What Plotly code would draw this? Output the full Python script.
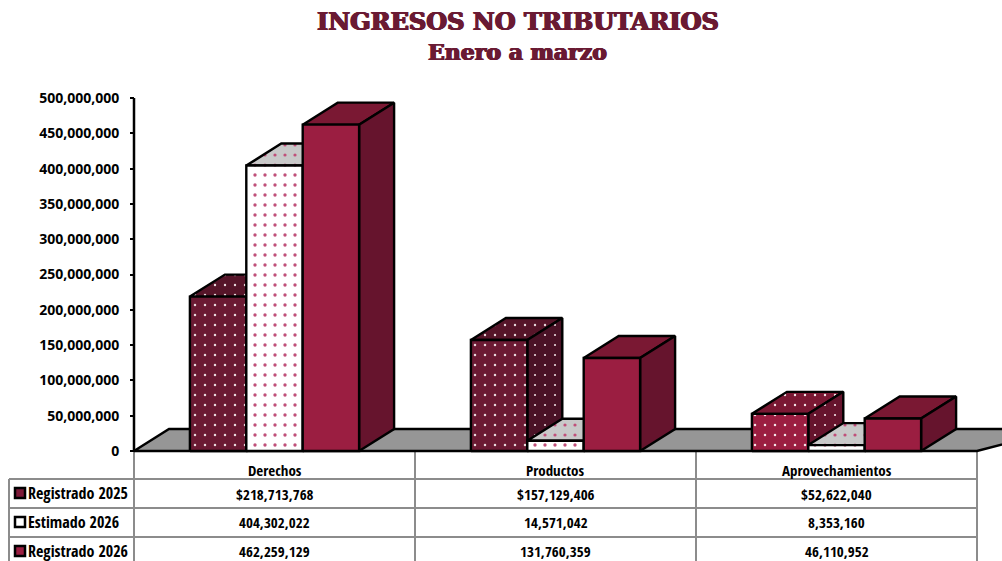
import plotly.graph_objects as go

categories = ["Derechos", "Productos", "Aprovechamientos"]
series_names = ["Registrado 2025", "Estimado 2026", "Registrado 2026"]
registrado_2025 = [218713768, 157129406, 52622040]
estimado_2026 = [404302022, 14571042, 8353160]
registrado_2026 = [462259129, 131760359, 46110952]
tick_values = [0, 50e6, 100e6, 150e6, 200e6, 250e6, 300e6, 350e6, 400e6, 450e6, 500e6]
title_lines = ["INGRESOS NO TRIBUTARIOS", "Enero a marzo"]

W, H = 1002, 561
X0_PX, CAT_PX = 274.5, 281.0      # centre of first category, width of a category
Y0_PX, PX_PER_UNIT = 451.0, 35.3 / 50e6
DEPTH_X = 35 / CAT_PX
DEPTH_Y = 22 / PX_PER_UNIT
BAR_W = 56.4 / CAT_PX

MAROON = "#6a1a33"
NARROW = "Open Sans Condensed"
SERIF = "DejaVu Serif"
SANS = "Open Sans"
GREY = "#8c8c8c"

fig = go.Figure()


def paper_x(px):
    return px / W


def paper_y(px):
    return 1 - px / H


def face(xs, ys, fill, pattern=None, width=2.4):
    t = dict(x=xs + xs[:1], y=ys + ys[:1], mode="lines", fill="toself", fillcolor=fill,
             line=dict(color="black", width=width, simplify=False), hoverinfo="skip", showlegend=False)
    if pattern:
        t["fillpattern"] = pattern
    fig.add_trace(go.Scatter(**t))


def dots(bg, fg, size=10, solidity=0.045):
    return dict(shape=".", bgcolor=bg, fgcolor=fg, size=size, solidity=solidity, fillmode="replace")


# floor of the 3-D plot
left, right = -0.5, 2.5
over = right + 0.3
face([left, right, over, left + DEPTH_X], [0, 0, DEPTH_Y, DEPTH_Y], "#969696")

# (front, top, side, dot colour, dot solidity) for each series in each category
styles = [
    [("#6b1a33", "#561529", "#4a1226", "#e8d8dc", 0.05), ("#ffffff", "#c9c9c9", "#c9c9c9", "#c0507a", 0.09), ("#9b1e41", "#7a1833", "#66142d", None, 0)],
    [("#6b1a33", "#561529", "#4a1226", "#e8d8dc", 0.05), ("#ffffff", "#c9c9c9", "#c9c9c9", "#c0507a", 0.09), ("#9b1e41", "#7a1833", "#66142d", None, 0)],
    [("#9b1e41", "#7a1833", "#66142d", "#f3e3e7", 0.05), ("#ffffff", "#c9c9c9", "#c9c9c9", "#c0507a", 0.09), ("#9b1e41", "#7a1833", "#66142d", None, 0)],
]
all_series = [registrado_2025, estimado_2026, registrado_2026]

for c in range(len(categories)):
    for s, values in enumerate(all_series):
        v = values[c]
        x1 = c + (s - 1.5) * BAR_W
        x2 = x1 + BAR_W
        front, top, side, dot, sol = styles[c][s]
        pf = dots(front, dot, 10, sol) if dot else None
        pt = dots(top, dot, 10, sol * 0.9) if dot else None
        ps = dots(side, dot, 10, sol * 0.7) if dot else None
        face([x1, x1 + DEPTH_X, x2 + DEPTH_X, x2], [v, v + DEPTH_Y, v + DEPTH_Y, v], top, pt)
        face([x2, x2 + DEPTH_X, x2 + DEPTH_X, x2], [0, DEPTH_Y, v + DEPTH_Y, v], side, ps)
        face([x1, x2, x2, x1], [0, 0, v, v], front, pf)

# value axis line
fig.add_trace(go.Scatter(x=[left, left], y=[0, tick_values[-1]], mode="lines",
                         line=dict(color="black", width=2.5), hoverinfo="skip", showlegend=False))

# data table
rows_px = [451, 479, 508, 537, 565]
cols_px = [134, 415, 696, 977]
shapes = []
for xp in cols_px:
    shapes.append(dict(type="line", xref="paper", yref="paper", x0=paper_x(xp), x1=paper_x(xp),
                       y0=paper_y(rows_px[0]), y1=paper_y(rows_px[-1]), line=dict(color=GREY, width=2), layer="below"))
shapes.append(dict(type="line", xref="paper", yref="paper", x0=paper_x(9), x1=paper_x(9),
                   y0=paper_y(rows_px[1]), y1=paper_y(rows_px[-1]), line=dict(color=GREY, width=2), layer="below"))
for yp in rows_px[1:4]:
    shapes.append(dict(type="line", xref="paper", yref="paper", x0=paper_x(9), x1=paper_x(977),
                       y0=paper_y(yp), y1=paper_y(yp), line=dict(color=GREY, width=2), layer="below"))

key_colors = ["#7d1a38", "#ffffff", "#9b1e41"]
annotations = []


def label(px_x, px_y, text, size, xanchor="center", color="black", family=NARROW, shadow=None):
    font = dict(family=family, size=size, color=color, weight=700)
    if shadow:
        font["shadow"] = shadow
    annotations.append(dict(x=paper_x(px_x), y=paper_y(px_y), xref="paper", yref="paper", text=text,
                            showarrow=False, xanchor=xanchor, yanchor="middle", font=font))


fat = f"0.8px 0 0 {MAROON}, -0.8px 0 0 {MAROON}, 0 0.4px 0 {MAROON}, 0 -0.4px 0 {MAROON}"
label(517.5, 21, title_lines[0], 24, color=MAROON, family=SERIF, shadow=fat)
label(517.5, 52, title_lines[1], 22, color=MAROON, family=SERIF, shadow=fat)

for c, cat in enumerate(categories):
    cx = X0_PX + c * CAT_PX
    label(cx, 470, cat, 15)
    label(cx, 494, f"${registrado_2025[c]:,}", 15)
    label(cx, 522, f"{estimado_2026[c]:,}", 15)
    label(cx, 550.5, f"{registrado_2026[c]:,}", 15)

for s, name in enumerate(series_names):
    yc = [493, 522, 551][s]
    shapes.append(dict(type="rect", xref="paper", yref="paper", x0=paper_x(15), x1=paper_x(25),
                       y0=paper_y(yc - 5), y1=paper_y(yc + 5), fillcolor=key_colors[s],
                       line=dict(color="black", width=2.5)))
    label(26, min(yc, 550.5), name, 16, xanchor="left")

fig.update_layout(
    width=W, height=H, margin=dict(l=0, r=0, t=0, b=0), autosize=False,
    paper_bgcolor="white", plot_bgcolor="white", showlegend=False,
    shapes=shapes, annotations=annotations,
    xaxis=dict(visible=False, range=[(0 - X0_PX) / CAT_PX, (W - X0_PX) / CAT_PX], fixedrange=True),
    yaxis=dict(range=[(Y0_PX - H) / PX_PER_UNIT, Y0_PX / PX_PER_UNIT], anchor="free", position=134 / W,
               showgrid=False, zeroline=False, showline=False, tickmode="array", tickvals=tick_values,
               ticktext=[f"{int(v):,}" for v in tick_values], ticks="outside", ticklen=4, tickwidth=2,
               tickcolor="black", ticklabelstandoff=8,
               tickfont=dict(family=SANS, size=14, color="black", weight=700), fixedrange=True),
)

fig.write_html("out.html", config={"displayModeBar": False},
               post_script="document.body.style.margin='0';document.body.style.overflow='hidden';")
